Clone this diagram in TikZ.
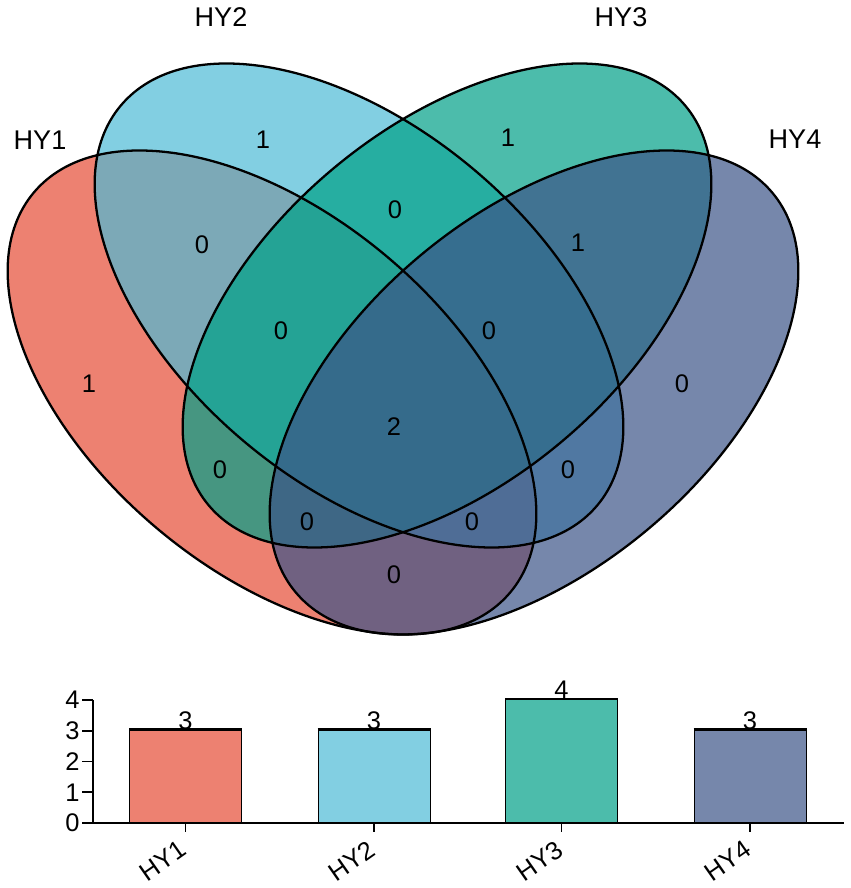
\documentclass[tikz,border=0pt]{standalone}
\usepackage{fontspec}
\setmainfont{Liberation Sans}
\usepackage{tikz}
\definecolor{hyone}{HTML}{E64B35}
\definecolor{hytwo}{HTML}{4DBBD5}
\definecolor{hythree}{HTML}{00A087}
\definecolor{hyfour}{HTML}{3C5488}

\begin{document}
\begin{tikzpicture}[x=0.2mm,y=0.2mm]
\tikzstyle{set}=[fill opacity=0.7]
\tikzstyle{oval}=[x radius=62.2mm,y radius=35.6mm]
\tikzstyle{rim}=[draw=black,line width=1.3pt]
\tikzstyle{count}=[inner sep=0pt,font=\fontsize{14.5}{17}\selectfont]
\tikzstyle{setname}=[inner sep=0pt,font=\fontsize{15.4}{18}\selectfont]
\tikzstyle{bar}=[draw=black,line width=0.6pt,fill opacity=0.7,inner sep=0pt,minimum width=22.4mm,anchor=south west]
\tikzstyle{axis}=[line width=0.9pt]
\tikzstyle{ticklab}=[inner sep=0pt,font=\fontsize{14.5}{17}\selectfont]

\useasboundingbox (0,0) rectangle (851,888);

\fill[set,hyone] (272,495.5) circle [oval,rotate=-40];
\fill[set,hytwo] (359,582.5) circle [oval,rotate=-40];
\fill[set,hythree] (447,582.5) circle [oval,rotate=40];
\fill[set,hyfour] (534,495.5) circle [oval,rotate=40];
\draw[rim] (272,495.5) circle [oval,rotate=-40];
\draw[rim] (359,582.5) circle [oval,rotate=-40];
\draw[rim] (447,582.5) circle [oval,rotate=40];
\draw[rim] (534,495.5) circle [oval,rotate=40];

\node[setname](s1) at (40,748){HY1};
\node[setname](s2) at (221,871){HY2};
\node[setname](s3) at (621,871){HY3};
\node[setname](s4) at (795,749){HY4};

\node[count](a1) at (89,504){1};
\node[count](a2) at (263,748){1};
\node[count](a3) at (508,750){1};
\node[count](a4) at (682,504){0};
\node[count](a12) at (202,643){0};
\node[count](a23) at (395,678){0};
\node[count](a34) at (578,645){1};
\node[count](a123) at (281,557){0};
\node[count](a234) at (489,557){0};
\node[count](a1234) at (394,461){2};
\node[count](a13) at (220,418){0};
\node[count](a24) at (568,418){0};
\node[count](a134) at (307,366){0};
\node[count](a124) at (472,366){0};
\node[count](a14) at (394,313){0};

\coordinate (o) at (93,65);
\coordinate (ytop) at (93,188);
\coordinate (xend) at (844,65);

\node[bar,fill=hyone,minimum height=18.45mm](b1) at (129,65){};
\node[bar,fill=hytwo,minimum height=18.45mm](b2) at (317.5,65){};
\node[bar,fill=hythree,minimum height=24.6mm](b3) at (505,65){};
\node[bar,fill=hyfour,minimum height=18.45mm](b4) at (693.5,65){};
\draw[line width=1.5pt] (b1.north west) -- (b1.north east);
\draw[line width=1.5pt] (b2.north west) -- (b2.north east);
\draw[line width=1.5pt] (b3.north west) -- (b3.north east);
\draw[line width=1.5pt] (b4.north west) -- (b4.north east);

\node[ticklab,anchor=base](c1) at (b1.north){3};
\node[ticklab,anchor=base](c2) at (b2.north){3};
\node[ticklab,anchor=base](c3) at (b3.north){4};
\node[ticklab,anchor=base](c4) at (b4.north){3};

\draw[axis] (ytop) -- (o) -- (xend);
\draw[axis] (82,65) -- (93,65);
\draw[axis] (82,95.75) -- (93,95.75);
\draw[axis] (82,126.5) -- (93,126.5);
\draw[axis] (82,157.25) -- (93,157.25);
\draw[axis] (82,188) -- (ytop);
\node[ticklab,anchor=east](t0) at (80,65){0};
\node[ticklab,anchor=east](t1) at (80,95.75){1};
\node[ticklab,anchor=east](t2) at (80,126.5){2};
\node[ticklab,anchor=east](t3) at (80,157.25){3};
\node[ticklab,anchor=east](t4) at (80,188){4};

\draw[axis] (b1.south) -- ++(0,-9);
\draw[axis] (b2.south) -- ++(0,-9);
\draw[axis] (b3.south) -- ++(0,-9);
\draw[axis] (b4.south) -- ++(0,-9);
\node[ticklab,rotate=35,anchor=north east](x1) at ([xshift=-1.4mm,yshift=-3.2mm]b1.south){HY1};
\node[ticklab,rotate=35,anchor=north east](x2) at ([xshift=-1.4mm,yshift=-3.2mm]b2.south){HY2};
\node[ticklab,rotate=35,anchor=north east](x3) at ([xshift=-1.4mm,yshift=-3.2mm]b3.south){HY3};
\node[ticklab,rotate=35,anchor=north east](x4) at ([xshift=-1.4mm,yshift=-3.2mm]b4.south){HY4};
\end{tikzpicture}
\end{document}
